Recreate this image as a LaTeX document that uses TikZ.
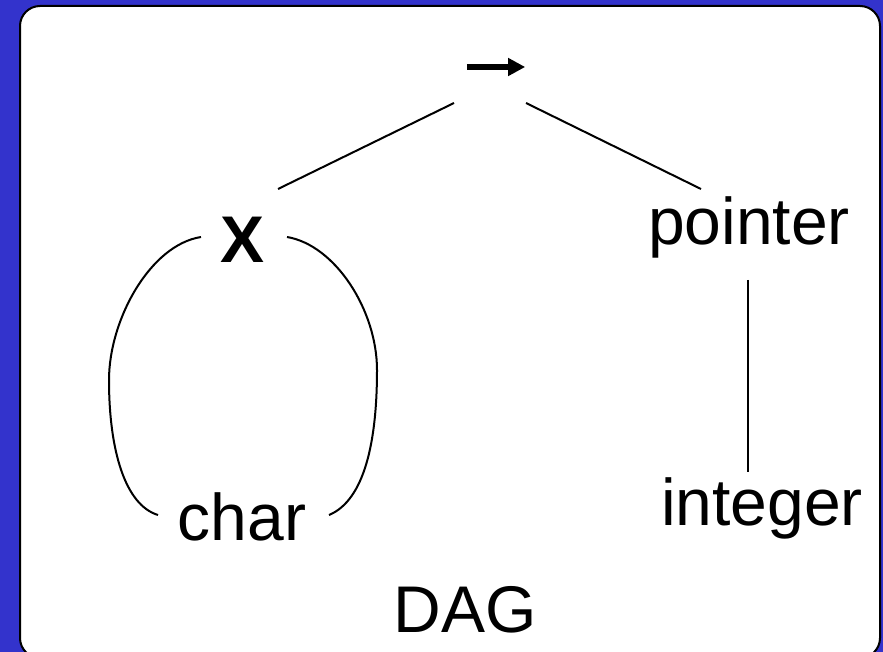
\documentclass[tikz,border=0pt]{standalone}
\usepackage{fontspec}
\setmainfont{Liberation Sans}
\usetikzlibrary{arrows.meta}
\definecolor{bgblue}{RGB}{51,51,204}
\begin{document}
\begin{tikzpicture}[x=1pt,y=-1pt,
  lbl/.style={inner sep=0pt, anchor=base, font=\fontsize{66}{79}\selectfont},
  edge/.style={line width=2pt},
  loopline/.style={line width=2pt}]
\useasboundingbox (0,0) rectangle (883,652);
\fill[bgblue] (0,0) rectangle (883,652);
\begin{scope}
  \clip (0,0) rectangle (883,652);
  \draw[line width=2pt, fill=white, rounded corners=20pt] (20,6) rectangle (880,658);
\end{scope}
% nodes
\node[inner sep=0pt, minimum width=58pt, minimum height=16pt] (arr) at (496,67) {};
\draw[line width=6.5pt, -{Triangle[length=17pt,width=17pt]}] (arr.west) -- (arr.east);
\node[lbl, font=\fontsize{66}{79}\selectfont\bfseries] (X) at (243,263) {X};
\node[lbl] (ptr) at (749,245) {pointer};
\node[lbl] (int) at (762,525) {integer};
\node[lbl] (chr) at (242,540) {char};
\node[lbl] (dag) at (465,632) {DAG};
% connectors
\draw[edge] ([shift={(-42,36)}]arr.center) -- ([shift={(35,-74)}]X.base);
\draw[edge] ([shift={(30,36)}]arr.center) -- ([shift={(-48,-56)}]ptr.base);
\draw[edge] ([shift={(-1,35)}]ptr.base) -- ([shift={(-14,-53)}]int.base);
\draw[loopline] ([shift={(-42,-26)}]X.base) .. controls (150,245) and (109,320) .. (109,380)
  .. controls (109,450) and (125,505) .. ([shift={(-84,-25)}]chr.base);
\draw[loopline] ([shift={(44,-26)}]X.base) .. controls (335,245) and (377,310) .. (377,370)
  .. controls (377,440) and (365,500) .. ([shift={(87,-25)}]chr.base);
\end{tikzpicture}
\end{document}
